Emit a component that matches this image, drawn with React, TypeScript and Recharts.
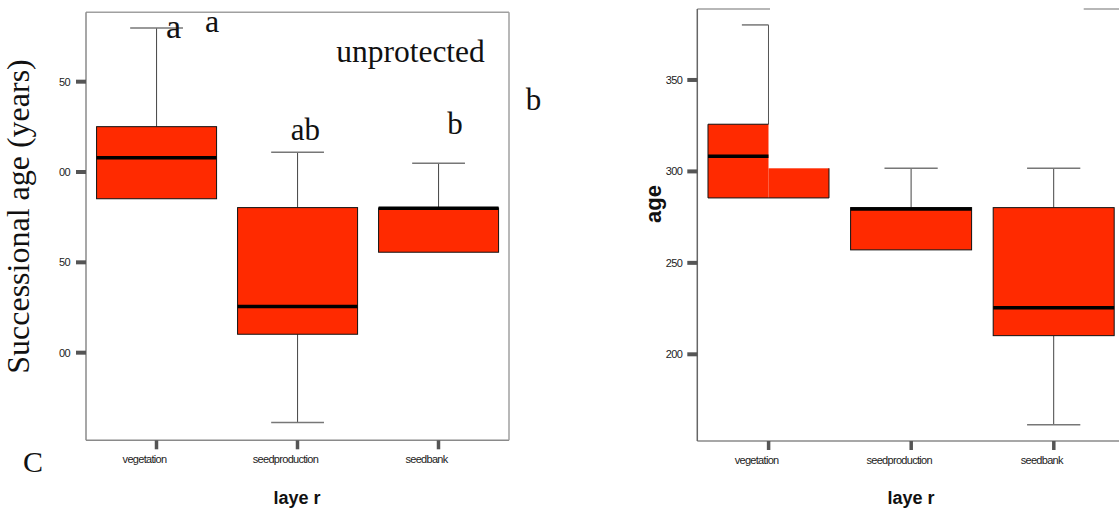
import { Bar, ComposedChart, XAxis, YAxis } from "recharts";

const layers = ["vegetation", "seedproduction", "seedbank"];
const ageTicks = [200, 250, 300, 350];
const unprotTickLabels = ["00", "50", "00", "50"];
const ageTickLabels = ["200", "250", "300", "350"];

// left panel (unprotected)
const unprotMin = [285.2, 161.3, 255.6];
const unprotQ1 = [285.2, 210.2, 255.6];
const unprotMedian = [307.9, 225.5, 280];
const unprotQ3 = [325.1, 280.3, 280.1];
const unprotMax = [379.7, 310.9, 304.8];

// right panel
const ageMin = [285.5, 257.1, 161.5];
const ageQ1 = [285.5, 257.1, 210.2];
const ageMedian = [308.3, 279.5, 225.5];
const ageQ3 = [325.8, 280.2, 280.2];
const ageMax = [380.1, 301.7, 301.7];
// right half of the vegetation box sits lower in the source figure
const ageQ3Right = [301.7, null, null];

const RED = "#ff2a00";
const SANS = "'Liberation Sans', Arial, sans-serif";
const SERIF = "'Liberation Serif', 'Times New Roman', serif";

const makeRows = (
  min: number[],
  q1: number[],
  median: number[],
  q3: number[],
  max: number[],
  q3Right?: (number | null)[]
) =>
  layers.map((layer, i) => ({
    layer,
    min: min[i],
    q1: q1[i],
    median: median[i],
    q3: q3[i],
    max: max[i],
    q3Right: q3Right ? q3Right[i] : null,
  }));

const unprotRows = makeRows(unprotMin, unprotQ1, unprotMedian, unprotQ3, unprotMax);
const ageRows = makeRows(ageMin, ageQ1, ageMedian, ageQ3, ageMax, ageQ3Right);

const BoxShape = (props: any) => {
  const { x, y, width, height, payload } = props;
  const top = Math.min(y, y + height);
  const h = Math.abs(height);
  const { min, q1, median, q3, max, q3Right } = payload;
  const py = (v: number) => top + ((max - v) / (max - min)) * h;
  const cx = x + width / 2;
  const cap = width * 0.22;
  const yMax = py(max);
  const yQ3 = py(q3);
  const yMed = py(median);
  const yQ1 = py(q1);
  const yMin = py(min);

  if (q3Right != null) {
    const yQ3r = py(q3Right);
    return (
      <g>
        <line x1={cx} x2={cx} y1={yMax} y2={yQ3} stroke="#555" />
        <line x1={cx - cap} x2={cx} y1={yMax} y2={yMax} stroke="#777" strokeWidth={1.5} />
        <rect x={x} y={yQ3} width={width / 2} height={yQ1 - yQ3} fill={RED} />
        <rect x={cx} y={yQ3r} width={width / 2} height={yQ1 - yQ3r} fill={RED} />
        <path
          d={`M${cx},${yQ3} H${x} V${yQ1} H${x + width} V${yQ3r}`}
          fill="none"
          stroke="#111"
        />
        <line x1={x} x2={cx} y1={yMed} y2={yMed} stroke="#000" strokeWidth={3.5} />
      </g>
    );
  }

  return (
    <g>
      <line x1={cx} x2={cx} y1={yMax} y2={yQ3} stroke="#444" />
      <line x1={cx - cap} x2={cx + cap} y1={yMax} y2={yMax} stroke="#777" strokeWidth={1.5} />
      {yMin > yQ1 + 1 && (
        <>
          <line x1={cx} x2={cx} y1={yQ1} y2={yMin} stroke="#444" />
          <line x1={cx - cap} x2={cx + cap} y1={yMin} y2={yMin} stroke="#777" strokeWidth={1.5} />
        </>
      )}
      <rect x={x} y={yQ3} width={width} height={yQ1 - yQ3} fill={RED} stroke="#111" />
      <line x1={x} x2={x + width} y1={yMed} y2={yMed} stroke="#000" strokeWidth={3.5} />
    </g>
  );
};

const CatTick = (props: any) => {
  const { x, y, payload } = props;
  return (
    <text
      x={x - 12}
      y={y + 13.5}
      textAnchor="middle"
      fontFamily={SANS}
      fontSize={11}
      letterSpacing={-0.7}
      fill="#222"
    >
      {payload.value}
    </text>
  );
};

const makeYTick = (labels: string[]) => (props: any) => {
  const { x, y, payload } = props;
  const i = ageTicks.indexOf(payload.value);
  return (
    <text
      x={x}
      y={y + 4}
      textAnchor="end"
      fontFamily={SANS}
      fontSize={11}
      letterSpacing={-0.6}
      fill="#222"
    >
      {labels[i]}
    </text>
  );
};

const tickLineX = { stroke: "#555", strokeWidth: 3.5 };
const tickLineY = { stroke: "#555", strokeWidth: 4 };

const App = () => {
  return (
    <div
      style={{
        position: "absolute",
        left: 0,
        top: 0,
        width: 1119,
        height: 511,
        overflow: "hidden",
        background: "#fff",
      }}
    >
      <div style={{ position: "absolute", left: 0, top: 0 }}>
        <ComposedChart
          width={560}
          height={511}
          data={unprotRows}
          margin={{ top: 11.3, right: 50, bottom: 0, left: 0 }}
          barCategoryGap="7.5%"
        >
          <XAxis
            xAxisId="b"
            dataKey="layer"
            height={70.7}
            interval={0}
            tickSize={9}
            tickMargin={0}
            tickLine={tickLineX}
            axisLine={{ stroke: "#8a8a8a", strokeWidth: 1.5 }}
            tick={<CatTick />}
          />
          <XAxis
            xAxisId="t"
            dataKey="layer"
            orientation="top"
            height={1}
            tick={false}
            tickLine={false}
            axisLine={{ stroke: "#a0a0a0", strokeWidth: 1.5 }}
          />
          <YAxis
            yAxisId="l"
            type="number"
            domain={[151.5, 388.4]}
            ticks={ageTicks}
            width={86}
            tickSize={10}
            tickMargin={6}
            tickLine={tickLineY}
            axisLine={{ stroke: "#8a8a8a", strokeWidth: 1.5 }}
            tick={makeYTick(unprotTickLabels)}
          />
          <YAxis
            yAxisId="r"
            orientation="right"
            type="number"
            domain={[151.5, 388.4]}
            width={1}
            tick={false}
            tickLine={false}
            axisLine={{ stroke: "#a0a0a0", strokeWidth: 1.5 }}
          />
          <Bar
            xAxisId="b"
            yAxisId="l"
            dataKey={(d: any) => [d.min, d.max]}
            shape={BoxShape}
            isAnimationActive={false}
          />
        </ComposedChart>
      </div>

      <div style={{ position: "absolute", left: 560, top: 0 }}>
        <ComposedChart
          width={600}
          height={511}
          data={ageRows}
          margin={{ top: 8, right: 34.9, bottom: 0, left: 0 }}
          barCategoryGap="7.5%"
        >
          <XAxis
            xAxisId="b"
            dataKey="layer"
            height={70}
            interval={0}
            tickSize={9}
            tickMargin={0}
            tickLine={tickLineX}
            axisLine={{ stroke: "#8a8a8a", strokeWidth: 1.5 }}
            tick={<CatTick />}
          />
          <XAxis
            xAxisId="t"
            dataKey="layer"
            orientation="top"
            height={1}
            tick={false}
            tickLine={false}
            axisLine={{ stroke: "#a0a0a0", strokeWidth: 1.5, strokeDasharray: "72.7 313.7 200" }}
          />
          <YAxis
            yAxisId="l"
            type="number"
            domain={[152.6, 388.8]}
            ticks={ageTicks}
            width={137.3}
            tickSize={10}
            tickMargin={5}
            tickLine={tickLineY}
            axisLine={{ stroke: "#666", strokeWidth: 1.5 }}
            tick={makeYTick(ageTickLabels)}
          />
          <Bar
            xAxisId="b"
            yAxisId="l"
            dataKey={(d: any) => [d.min, d.max]}
            shape={BoxShape}
            isAnimationActive={false}
          />
        </ComposedChart>
      </div>

      <svg
        width={1119}
        height={511}
        style={{ position: "absolute", left: 0, top: 0, pointerEvents: "none" }}
      >
        <text
          transform="translate(29,216.5) rotate(-90)"
          textAnchor="middle"
          fontFamily={SERIF}
          fontSize={32}
          fill="#111"
        >
          Successional age (years)
        </text>
        <text
          transform="translate(661,204) rotate(-90)"
          textAnchor="middle"
          fontFamily={SANS}
          fontWeight="bold"
          fontSize={22}
          fill="#111"
        >
          age
        </text>
        <text x={297} y={504} textAnchor="middle" fontFamily={SANS} fontWeight="bold" fontSize={18} fill="#111">
          laye<tspan dx={5}>r</tspan>
        </text>
        <text x={911} y={504} textAnchor="middle" fontFamily={SANS} fontWeight="bold" fontSize={18} fill="#111">
          laye<tspan dx={5}>r</tspan>
        </text>
        <g fontFamily={SERIF} fill="#111">
          <text x={173.5} y={38} textAnchor="middle" fontSize={34}>a</text>
          <text x={212} y={31.7} textAnchor="middle" fontSize={32}>a</text>
          <text x={410.5} y={62.3} textAnchor="middle" fontSize={31.5}>unprotected</text>
          <text x={533.5} y={110} textAnchor="middle" fontSize={31}>b</text>
          <text x={305.5} y={140} textAnchor="middle" fontSize={31}>ab</text>
          <text x={455} y={134} textAnchor="middle" fontSize={31}>b</text>
          <text x={33} y={471.7} textAnchor="middle" fontSize={30}>C</text>
        </g>
      </svg>
    </div>
  );
};

export default App;
